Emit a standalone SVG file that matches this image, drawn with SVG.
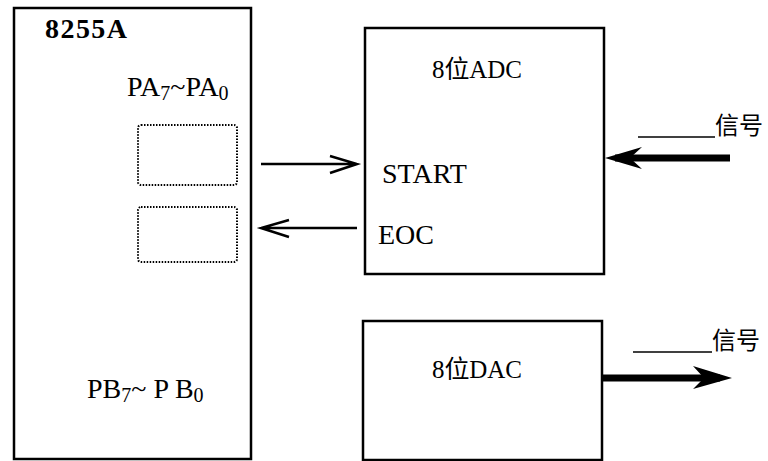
<svg xmlns="http://www.w3.org/2000/svg" width="768" height="461" viewBox="0 0 768 461">
<style>
.box{fill:none;stroke:#000;stroke-width:2.5}
.dot{fill:none;stroke:#000;stroke-width:2;stroke-dasharray:1.5 1.5}
.t{font-family:"Liberation Serif","Noto Sans CJK SC",serif;font-size:28px;fill:#000}
.cn{font-family:"Liberation Serif","Noto Sans CJK SC",serif;font-size:25px;fill:#000}
.sig{font-family:"Noto Sans CJK SC",sans-serif;font-size:24px;fill:#000}
.thin{fill:none;stroke:#000;stroke-width:2.5}
.thick{fill:none;stroke:#000;stroke-width:7}
.ul{stroke:#000;stroke-width:1.5}
</style>
<g id="n8255A">
<rect class="box" x="14" y="8" width="237" height="451"/>
<text class="t" x="45" y="38" font-weight="bold" font-size="27" textLength="82">8255A</text>
<text class="t" x="127" y="96">PA<tspan font-size="20" dy="4">7</tspan><tspan dy="-4">~PA</tspan><tspan font-size="20" dy="4">0</tspan></text>
<rect class="dot" x="138" y="125" width="99" height="60" rx="3"/>
<rect class="dot" x="138" y="207" width="99" height="55" rx="3"/>
<text class="t" x="87" y="398">PB<tspan font-size="20" dy="4">7</tspan><tspan dy="-4">~ P B</tspan><tspan font-size="20" dy="4">0</tspan></text>
</g>
<g id="adc">
<rect class="box" x="365" y="28" width="239" height="246"/>
<text class="cn" x="432" y="78" textLength="90">8位ADC</text>
<text class="t" x="382" y="183">START</text>
<text class="t" x="378" y="244">EOC</text>
</g>
<g id="dac">
<rect class="box" x="363" y="321" width="239" height="139"/>
<text class="cn" x="432" y="378" textLength="90">8位DAC</text>
</g>
<g id="connectors">
<path class="thin" d="M261 164H357M330 156L357 164L330 173"/>
<path class="thin" d="M357 228H261M289 220L261 228L289 237"/>
<path class="thick" d="M730 158H615"/>
<path d="M605 158L642 147L630 158L642 169Z" fill="#000"/>
<line class="ul" x1="638" y1="137" x2="715" y2="137"/>
<text class="sig" x="715" y="134">信号</text>
<path class="thick" d="M603 378H720"/>
<path d="M732 378L693 366L704 378L693 389Z" fill="#000"/>
<line class="ul" x1="633" y1="352" x2="712" y2="352"/>
<text class="sig" x="712" y="349">信号</text>
</g>
</svg>
